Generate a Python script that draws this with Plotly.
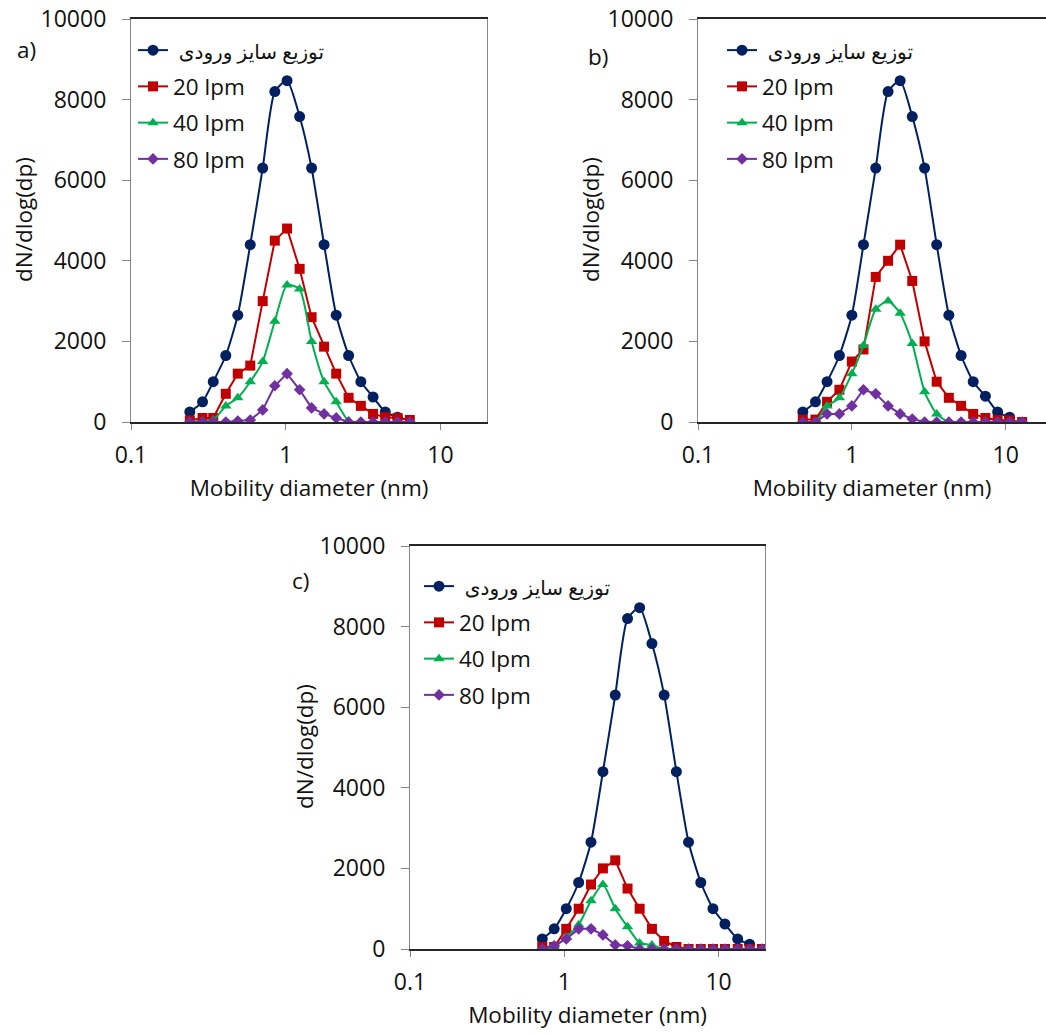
import plotly.graph_objects as go

W, H = 1046, 1034

# ---------------- data ----------------
legend_names = ['\u00a0<span style="font-size:20px">توزیع سایز ورودی</span>', "20 lpm", "40 lpm", "80 lpm"]

a_x = [0.24, 0.29, 0.34, 0.41, 0.49, 0.59, 0.71, 0.85, 1.02, 1.23, 1.47, 1.77, 2.12, 2.55, 3.06, 3.67, 4.40, 5.28, 6.34]
a_inlet = [250, 500, 1000, 1650, 2650, 4400, 6300, 8200, 8470, 7580, 6300, 4400, 2650, 1650, 1000, 620, 250, 120, None]
a_20 = [40, 100, 100, 700, 1200, 1400, 3000, 4500, 4800, 3800, 2600, 1870, 1200, 600, 400, 200, 120, 100, 50]
a_40 = [0, 25, 50, 400, 600, 1000, 1500, 2500, 3400, 3300, 2000, 1000, 500, 25, 0, 0, 0, 0, 0]
a_80 = [0, 0, 0, 0, 25, 50, 300, 900, 1200, 800, 350, 200, 100, 0, 0, 0, 0, 0, 0]

b_x = [0.48, 0.58, 0.69, 0.83, 1.00, 1.19, 1.43, 1.72, 2.06, 2.47, 2.97, 3.56, 4.27, 5.13, 6.15, 7.38, 8.86, 10.6, 12.8]
b_inlet = [250, 500, 1000, 1650, 2650, 4400, 6300, 8200, 8470, 7580, 6300, 4400, 2650, 1650, 1000, 640, 250, 120, None]
b_20 = [60, 60, 500, 800, 1500, 1800, 3600, 4000, 4400, 3500, 2000, 1000, 600, 400, 200, 100, 50, 40, 0]
b_40 = [0, 0, 400, 600, 1200, 1900, 2800, 3000, 2700, 1950, 750, 200, 0, 0, 0, 0, 0, 0, 0]
b_80 = [0, 0, 200, 200, 400, 800, 700, 400, 200, 75, 0, 0, 0, 0, 0, 0, 0, 0, 0]

c_x = [0.72, 0.86, 1.03, 1.24, 1.49, 1.78, 2.14, 2.57, 3.08, 3.70, 4.44, 5.33, 6.39, 7.67, 9.20, 11.0, 13.3, 15.9, 19.1]
c_inlet = [250, 500, 1000, 1650, 2650, 4400, 6300, 8200, 8470, 7580, 6300, 4400, 2650, 1650, 1000, 620, 250, 120, None]
c_20 = [50, 50, 500, 1000, 1600, 2000, 2200, 1500, 1000, 500, 200, 50, 0, 0, 0, 0, 0, 0, 0]
c_40 = [0, 50, 300, 600, 1200, 1600, 1000, 550, 150, 100, 0, 0, 0, 0, 0, 0, 0, 0, 0]
c_80 = [0, 80, 250, 500, 500, 350, 100, 80, 0, 0, 0, 0, 0, 0, 0, 0, 0, 0, 0]

y_ticks = [0, 2000, 4000, 6000, 8000, 10000]
y_tick_labels = ["0", "2000", "4000", "6000", "8000", "10000"]
x_ticks = [0.1, 1, 10]
x_tick_labels = ["0.1", "1", "10"]
panel_labels = ["a)", "b)", "c)"]
x_title = "Mobility diameter (nm)"
y_title = "dN/dlog(dp)"

# ---------------- styling ----------------
FONT = "Open Sans, DejaVu Sans, sans-serif"
TICK_SIZE = 23
TEXT_SIZE = 22.5
colors = ["#002060", "#C00000", "#00B050", "#7030A0"]
symbols = ["circle", "square", "triangle-up", "diamond"]
msizes = [11, 10, 10, 9]
shapes = ["spline", "linear", "spline", "linear"]

# screen-pixel boxes of plot areas (left, right, top, bottom)
boxes = [(131, 487, 19, 422), (698, 1046, 19, 422), (410, 765, 546, 949)]
xmax_log = [1.301, 1.262, 1.301]
legend_pos = [(133, 29), (722, 29), (419, 565)]
label_pos = [(26, 50), (598, 57), (300, 580)]
ytitle_pos = [(24, 220), (591, 220), (304, 747)]


def sx(px):
    return px / W


def sy(py):
    return 1 - py / H


panels = [
    (a_x, [a_inlet, a_20, a_40, a_80]),
    (b_x, [b_inlet, b_20, b_40, b_80]),
    (c_x, [c_inlet, c_20, c_40, c_80]),
]

fig = go.Figure()
layout = {}
annotations = []
for p, (xs, series) in enumerate(panels):
    sfx = "" if p == 0 else str(p + 1)
    leg = "legend" if p == 0 else "legend" + str(p + 1)
    for s, ys in enumerate(series):
        fig.add_trace(go.Scatter(
            x=xs, y=ys, mode="lines+markers", name=legend_names[s],
            xaxis="x" + sfx, yaxis="y" + sfx, legend=leg,
            legendgroup=f"p{p}s{s}", connectgaps=False,
            line=dict(color=colors[s], width=2, shape=shapes[s], smoothing=0.6),
            marker=dict(color=colors[s], symbol=symbols[s], size=msizes[s]),
        ))
    l, r, t, b = boxes[p]
    layout["xaxis" + sfx] = dict(
        type="log", range=[-1, xmax_log[p]], domain=[sx(l), min(sx(r), 1)],
        anchor="y" + sfx, tickvals=x_ticks, ticktext=x_tick_labels,
        ticks="outside", ticklen=6, tickcolor="#868686", ticklabelstandoff=6,
        ticklabeloverflow="allow",
        showline=True, linecolor="#262626", linewidth=1.5, mirror=True,
        showgrid=False, zeroline=False, automargin=False,
        tickfont=dict(family=FONT, size=TICK_SIZE, color="#111"),
        title=dict(text=x_title, font=dict(family=FONT, size=TEXT_SIZE, color="#111"), standoff=11),
    )
    layout["yaxis" + sfx] = dict(
        range=[0, 10000], domain=[sy(b), sy(t)], anchor="x" + sfx,
        tickvals=y_ticks, ticktext=y_tick_labels, ticks="outside", ticklen=8,
        tickcolor="#868686", ticklabelstandoff=11, ticklabeloverflow="allow",
        showline=True, linecolor="#868686", linewidth=1.2, mirror=(p != 1),
        showgrid=False, zeroline=False, automargin=False,
        tickfont=dict(family=FONT, size=TICK_SIZE, color="#111"),
    )
    lx, ly = legend_pos[p]
    layout[leg] = dict(
        x=sx(lx), y=sy(ly), xanchor="left", yanchor="top",
        bgcolor="rgba(0,0,0,0)", borderwidth=0, itemwidth=30, tracegroupgap=4,
        font=dict(family=FONT, size=TEXT_SIZE, color="#111"),
    )
    tx, ty = ytitle_pos[p]
    annotations.append(dict(
        x=sx(tx), y=sy(ty), xref="paper", yref="paper", text=y_title,
        textangle=-90, showarrow=False, xanchor="center", yanchor="middle",
        font=dict(family=FONT, size=TEXT_SIZE, color="#111"),
    ))
    px, py = label_pos[p]
    annotations.append(dict(
        x=sx(px), y=sy(py), xref="paper", yref="paper", text=panel_labels[p],
        showarrow=False, xanchor="center", yanchor="middle",
        font=dict(family=FONT, size=TEXT_SIZE, color="#111"),
    ))

fig.update_layout(
    template="none",
    width=W, height=H, margin=dict(l=0, r=0, t=0, b=0),
    paper_bgcolor="white", plot_bgcolor="white", showlegend=True,
    annotations=annotations, **layout,
)

# remove the default 8 px page margin so the figure fills the window exactly
fig.write_html(
    "out.html",
    config={"displayModeBar": False},
    post_script="document.body.style.margin='0';document.body.style.overflow='hidden';",
)
